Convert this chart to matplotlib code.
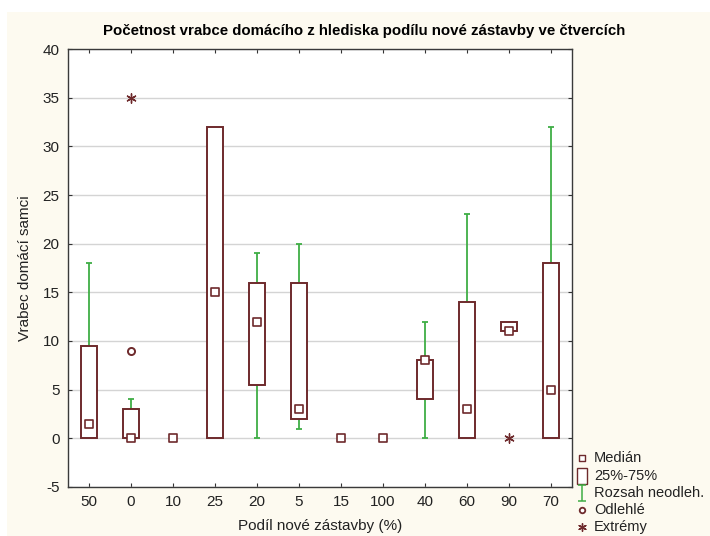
import matplotlib
matplotlib.use("Agg")
import matplotlib.pyplot as plt
from matplotlib.patches import Rectangle

plt.rcParams['font.family'] = ['Liberation Sans', 'DejaVu Sans']
plt.rcParams['axes.unicode_minus'] = False

# Categories (share of new development, %)
categories = ['50', '0', '10', '25', '20', '5', '15', '100', '40', '60', '90', '70']

# Box statistics per category
medians  = [1.5, 0, 0, 15, 12, 3, 0, 0, 8, 3, 11, 5]
q1       = [0, 0, 0, 0, 5.5, 2, 0, 0, 4, 0, 11, 0]
q3       = [9.5, 3, 0, 32, 16, 16, 0, 0, 8, 14, 12, 18]
whisk_lo = [0, 0, 0, 0, 0, 1, 0, 0, 0, 0, 11, 0]
whisk_hi = [18, 4, 0, 32, 19, 20, 0, 0, 12, 23, 12, 32]

# Outliers and extremes: (category index, value)
outlier_idx = [1]
outlier_val = [9]
extreme_idx = [1, 10]
extreme_val = [35, 0]

maroon = '#6e2a2c'
green = '#3fae45'
cream = '#fdfaf0'

W, H = 710, 536
fig = plt.figure(figsize=(W / 100, H / 100), dpi=100)
fig.patch.set_facecolor('white')
fig.add_artist(Rectangle((7 / W, 0), 1 - 7 / W, 1 - 12 / H,
                         transform=fig.transFigure, facecolor=cream,
                         edgecolor='none', zorder=-10))

ax = fig.add_axes([68 / W, 1 - 487 / H, (572 - 68) / W, (487 - 49) / H])
ax.set_facecolor('white')

x = list(range(len(categories)))
box_w = 0.4
cap_w = 0.16

# whiskers
for i in x:
    if whisk_hi[i] > q3[i]:
        ax.vlines(i, q3[i], whisk_hi[i], color=green, lw=1.3, zorder=2)
        ax.hlines(whisk_hi[i], i - cap_w / 2, i + cap_w / 2, color=green, lw=1.3, zorder=2)
    if whisk_lo[i] < q1[i]:
        ax.vlines(i, whisk_lo[i], q1[i], color=green, lw=1.3, zorder=2)
        ax.hlines(whisk_lo[i], i - cap_w / 2, i + cap_w / 2, color=green, lw=1.3, zorder=2)

# boxes (25%-75%)
heights = [b - a for a, b in zip(q1, q3)]
bx = [i for i in x if heights[i] > 0]
ax.bar(bx, [heights[i] for i in bx], bottom=[q1[i] for i in bx], width=box_w,
       facecolor='white', edgecolor=maroon, linewidth=1.4, zorder=3)

# medians
ax.scatter(x, medians, marker='s', s=28, facecolor='white', edgecolor=maroon,
           linewidth=1.2, zorder=5)
# outliers
ax.scatter(outlier_idx, outlier_val, marker='o', s=26, facecolor='white',
           edgecolor=maroon, linewidth=1.4, zorder=5)
# extremes
ax.scatter(extreme_idx, extreme_val, marker=(6, 2, 0), s=45, color=maroon,
           linewidth=1.0, zorder=5)

ax.set_xlim(-0.5, len(categories) - 0.5)
ax.set_ylim(-5, 40)
ax.set_yticks(range(-5, 41, 5))
ax.set_xticks(x)
ax.set_xticklabels(categories)
ax.yaxis.grid(True, color='#d4d4d4', lw=1.0)
ax.set_axisbelow(True)
ax.tick_params(axis='both', direction='in', length=3, width=0.8, color='#333333',
               labelsize=11, top=True, right=True, pad=6, labelcolor='#222222')
for s in ax.spines.values():
    s.set_color('#3a3a3a')
    s.set_linewidth(1.0)

ax.set_xlabel('Podíl nové zástavby (%)', fontsize=11, labelpad=7, color='#222222')
ax.set_ylabel('Vrabec domácí samci', fontsize=11, labelpad=8, color='#222222')

fig.text(364 / W, 1 - 31 / H,
         'Početnost vrabce domácího z hlediska podílu nové zástavby ve čtvercích',
         ha='center', va='center', fontsize=10.8, fontweight='bold')

# legend drawn in pixel coordinates on an overlay
lg = fig.add_axes([0, 0, 1, 1], facecolor='none')
lg.set_xlim(0, W)
lg.set_ylim(H, 0)
lg.axis('off')
tx = 594
rows = [458, 476, 493, 510, 527]
labels = ['Medián', '25%-75%', 'Rozsah neodleh.', 'Odlehlé', 'Extrémy']
mx = 582
lg.scatter([mx], [rows[0]], marker='s', s=16, facecolor='white', edgecolor=maroon, linewidth=1.0)
lg.add_patch(Rectangle((577, rows[1] - 8), 10, 16, facecolor='white', edgecolor=maroon, lw=1.0))
lg.vlines(mx, rows[2] - 8, rows[2] + 8, color=green, lw=1.1)
lg.hlines([rows[2] - 8, rows[2] + 8], mx - 4, mx + 4, color=green, lw=1.1)
lg.scatter([mx], [rows[3]], marker='o', s=16, facecolor='white', edgecolor=maroon, linewidth=1.3)
lg.scatter([mx], [rows[4]], marker=(6, 2, 0), s=30, color=maroon, linewidth=1.0)
for r, t in zip(rows, labels):
    lg.text(tx, r, t, fontsize=10.5, va='center', ha='left', color='#222222')

fig.savefig('out.png', dpi=100, facecolor=fig.get_facecolor())
